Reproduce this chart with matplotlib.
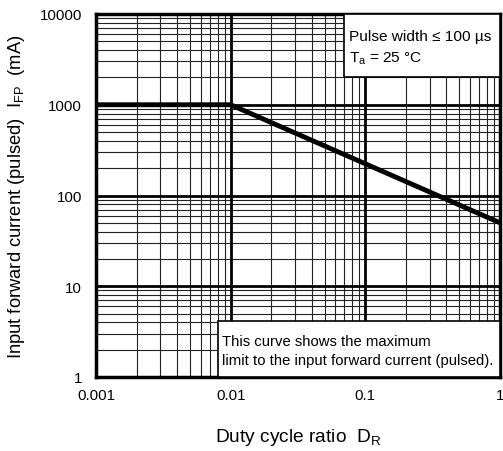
import matplotlib
matplotlib.use("Agg")
import matplotlib.pyplot as plt
import numpy as np

plt.rcParams["font.family"] = ["Liberation Sans", "DejaVu Sans"]
plt.rcParams["mathtext.fontset"] = "custom"
plt.rcParams["mathtext.rm"] = "Liberation Sans"
plt.rcParams["mathtext.it"] = "Liberation Sans"

# Pulsgrenzkurve
DUTY = [0.001, 0.01, 1.0]
I_FP = [1000, 1000, 50]
X_TICKS = [0.001, 0.01, 0.1, 1]
X_LABELS = ["0.001", "0.01", "0.1", "1"]
Y_TICKS = [1, 10, 100, 1000, 10000]
Y_LABELS = ["1", "10", "100", "1000", "10000"]

fig = plt.figure(figsize=(5.03, 4.52), dpi=100)
ax = fig.add_axes([96 / 503, 1 - 378 / 452, 404 / 503, 363 / 452])
ax.set_xscale("log")
ax.set_yscale("log")
ax.set_xlim(0.001, 1)
ax.set_ylim(1, 10000)

# Gitter
minor = np.arange(2, 10)
for dec in [0.001, 0.01, 0.1]:
    for m in minor:
        ax.axvline(dec * m, color="#222222", lw=0.8, zorder=1)
for dec in [1, 10, 100, 1000]:
    for m in minor:
        ax.axhline(dec * m, color="#222222", lw=0.8, zorder=1)
for v in X_TICKS[1:-1]:
    ax.axvline(v, color="black", lw=2, zorder=2)
for v in Y_TICKS[1:-1]:
    ax.axhline(v, color="black", lw=2, zorder=2)

ax.plot(DUTY, I_FP, color="black", lw=3.5, zorder=3, solid_capstyle="butt")

for s in ax.spines.values():
    s.set_linewidth(2.5)
    s.set_zorder(5)
ax.set_xticks(X_TICKS)
ax.set_xticklabels(X_LABELS)
ax.set_yticks(Y_TICKS)
ax.set_yticklabels(Y_LABELS)
ax.minorticks_off()
ax.tick_params(length=0, labelsize=10.8)
ax.tick_params(axis="x", pad=8)
ax.tick_params(axis="y", pad=10)

ax.set_xlabel("Duty cycle ratio  D$_\\mathrm{R}$", fontsize=13.8, labelpad=17)
ax.set_ylabel("Input forward current (pulsed)  I$_\\mathrm{FP}$  (mA)", fontsize=13.2, labelpad=9)

# Textkaesten
fig.patches.append(plt.Rectangle((344 / 503, 1 - 78 / 452), 156 / 503, 63 / 452,
                                 transform=fig.transFigure, facecolor="white",
                                 edgecolor="black", lw=1.2, zorder=6))
fig.text(349 / 503, 1 - 37 / 452, "Pulse width \u2264 100 \u00b5s", fontsize=11.1,
         va="center", ha="left", zorder=7)
fig.text(349 / 503, 1 - 59 / 452, "T$_\\mathrm{a}$ = 25 \u00b0C", fontsize=11.1,
         va="center", ha="left", zorder=7)
fig.patches.append(plt.Rectangle((218 / 503, 1 - 378 / 452), 282 / 503, 56 / 452,
                                 transform=fig.transFigure, facecolor="white",
                                 edgecolor="black", lw=1.2, zorder=6))
fig.text(222 / 503, 1 - 342 / 452, "This curve shows the maximum", fontsize=10.7,
         va="center", ha="left", zorder=7)
fig.text(222 / 503, 1 - 361 / 452, "limit to the input forward current (pulsed).", fontsize=10.7,
         va="center", ha="left", zorder=7)

fig.savefig("out.png", dpi=100)
